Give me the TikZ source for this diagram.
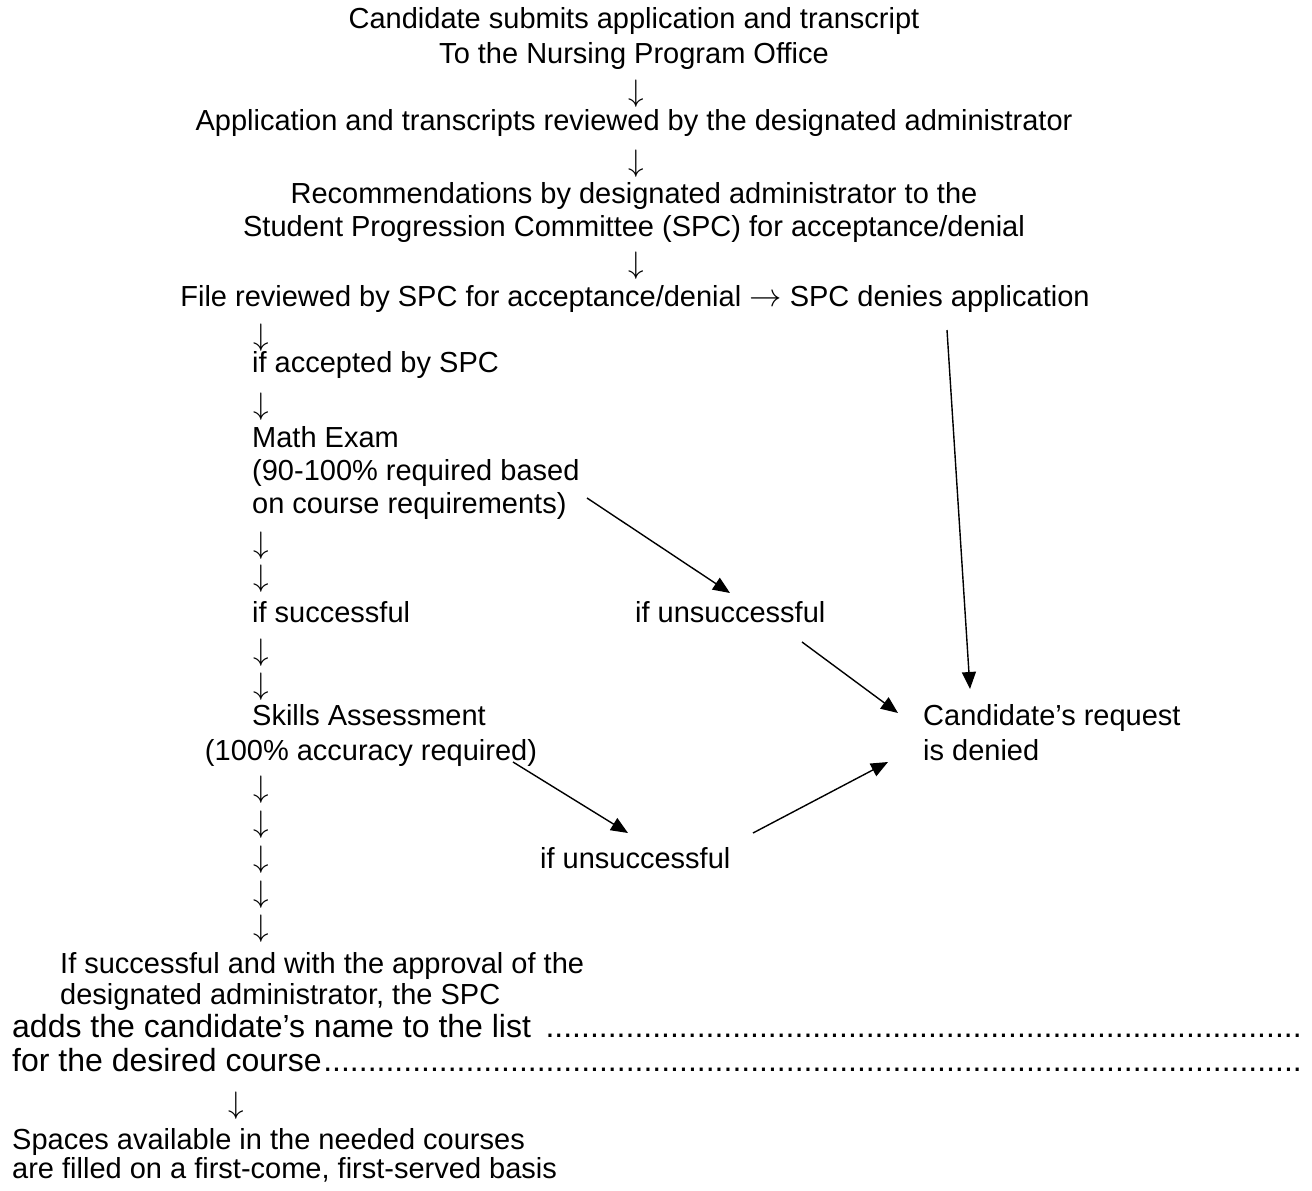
\documentclass[tikz,border=0pt]{standalone}
\usepackage{graphicx}
\usepackage{fontspec}
\setmainfont{Liberation Sans}
\usetikzlibrary{arrows.meta}
\newcommand{\dnarrow}{\scalebox{1.25}{$\downarrow$}}
\newcommand{\rtarrow}{\scalebox{1.3}{$\rightarrow$}}
\begin{document}
\begin{tikzpicture}[x=1pt,y=-1pt,
  txt/.style={inner sep=0pt, font=\fontsize{29}{33}\selectfont},
  lt/.style={txt, anchor=base west},
  ct/.style={txt, anchor=base},
  bigtxt/.style={inner sep=0pt, anchor=base west, font=\fontsize{32}{36}\selectfont},
  dn/.style={inner sep=0pt, anchor=center, font=\fontsize{24.88}{30}\selectfont},
  arr/.style={line width=1.4pt, -{Triangle[length=17pt,width=14pt]}}]
\fill[white] (0,0) rectangle (1312,1191);
\useasboundingbox (0,0) rectangle (1312,1191);

% top, centred block
\node[ct] (t1) at (634,28) {Candidate submits application and transcript};
\node[ct] (t2) at (634,63) {To the Nursing Program Office};
\node[dn] (d1) at (636,94) {\dnarrow};
\node[ct] (t3) at (634,130) {Application and transcripts reviewed by the designated administrator};
\node[dn] (d2) at (636,164) {\dnarrow};
\node[ct] (t4) at (634,203) {Recommendations by designated administrator to the};
\node[ct] (t5) at (634,236) {Student Progression Committee (SPC) for acceptance/denial};
\node[dn] (d3) at (636,266) {\dnarrow};
\node[ct] (file) at (635,306) {File reviewed by SPC for acceptance/denial {\fontsize{24.88}{30}\selectfont\rtarrow} SPC denies application};

% left column
\node[dn] (d4) at (261,338) {\dnarrow};
\node[lt] (acc) at (252,372) {if accepted by SPC};
\node[dn] (d5) at (261,407) {\dnarrow};
\node[lt] (m1) at (252,447) {Math Exam};
\node[lt] (m2) at (252,480) {(90-100\% required based};
\node[lt] (m3) at (252,513) {on course requirements)};
\node[dn] (d6) at (261,546) {\dnarrow};
\node[dn] (d7) at (261,579) {\dnarrow};
\node[lt] (succ) at (252,622) {if successful};
\node[lt] (uns1) at (635,622) {if unsuccessful};
\node[dn] (d8) at (261,653) {\dnarrow};
\node[dn] (d9) at (261,687) {\dnarrow};
\node[ct] (s1) at (369,725) {Skills Assessment};
\node[ct] (s2) at (371,760) {(100\% accuracy required)};
\node[lt] (den1) at (923,725) {Candidate’s request};
\node[lt] (den2) at (923,760) {is denied};
\node[dn] (d10) at (261,790) {\dnarrow};
\node[dn] (d11) at (261,825) {\dnarrow};
\node[dn] (d12) at (261,860) {\dnarrow};
\node[dn] (d13) at (261,895) {\dnarrow};
\node[dn] (d14) at (261,929) {\dnarrow};
\node[lt] (uns2) at (540,868) {if unsuccessful};

% bottom block
\node[lt] (b1) at (60,973) {If successful and with the approval of the};
\node[lt] (b2) at (60,1004) {designated administrator, the SPC};
\node[bigtxt] (b3) at (12,1037) {\hbox to 1293pt{adds the candidate’s name to the list \leaders\hbox{.}\hfill}};
\node[bigtxt] (b4) at (12,1071) {\hbox to 1293pt{for the desired course\leaders\hbox{.}\hfill}};
\node[dn] (d15) at (236,1106) {\dnarrow};
\node[lt] (b5) at (12,1149) {Spaces available in the needed courses};
\node[lt] (b6) at (12,1178) {are filled on a first-come, first-served basis};

% connectors
\coordinate (a1s) at (587,498); \coordinate (a1e) at (730,593);
\coordinate (a2s) at (802,642); \coordinate (a2e) at (898,713);
\coordinate (a3s) at (947,330); \coordinate (a3e) at (970,689);
\coordinate (a4s) at (513,762); \coordinate (a4e) at (628,833);
\coordinate (a5s) at (753,833); \coordinate (a5e) at (888,762);
\draw[arr] (a1s) -- (a1e);
\draw[arr] (a2s) -- (a2e);
\draw[arr] (a3s) -- (a3e);
\draw[arr] (a4s) -- (a4e);
\draw[arr] (a5s) -- (a5e);
\end{tikzpicture}
\end{document}
